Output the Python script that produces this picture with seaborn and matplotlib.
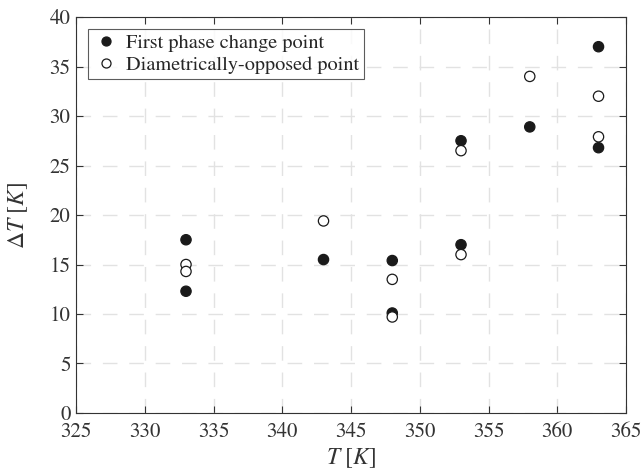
import numpy as np
import pandas as pd
import seaborn as sns
import matplotlib.pyplot as plt

# Данные
T_first = [333, 333, 343, 348, 348, 353, 353, 358, 363, 363]
dT_first = [17.5, 12.3, 15.5, 15.4, 10.1, 27.5, 17.0, 28.9, 37.0, 26.8]
T_opp = [333, 333, 343, 348, 348, 353, 353, 358, 363, 363]
dT_opp = [15.0, 14.3, 19.4, 13.5, 9.7, 26.5, 16.0, 34.0, 32.0, 27.9]

df = pd.concat([
    pd.DataFrame({'T': T_first, 'dT': dT_first, 'kind': 'First phase change point'}),
    pd.DataFrame({'T': T_opp, 'dT': dT_opp, 'kind': 'Diametrically-opposed point'}),
])

sns.set_style('ticks')
plt.rcParams['font.family'] = ['STIXGeneral', 'DejaVu Serif']
plt.rcParams['mathtext.fontset'] = 'stix'

fig = plt.figure(figsize=(6.43, 4.74), dpi=100)
ax = fig.add_axes([0.1182, 0.1287, 0.8554, 0.8354])

sns.scatterplot(data=df, x='T', y='dT', hue='kind', style='kind',
                palette={'First phase change point': '#1a1a1a', 'Diametrically-opposed point': 'white'},
                markers={'First phase change point': 'o', 'Diametrically-opposed point': 'o'},
                edgecolor='#1a1a1a', linewidth=0.9, s=55, ax=ax, zorder=3)

ax.set_xlim(325, 365)
ax.set_ylim(0, 40)
ax.set_xticks(np.arange(325, 366, 5))
ax.set_yticks(np.arange(0, 41, 5))
ax.grid(True, linestyle=(0, (10.5, 8.5)), color='#e2e2e2', linewidth=1.0)
ax.set_axisbelow(True)
for sp in ax.spines.values():
    sp.set_visible(True)
    sp.set_color('#333333')
    sp.set_linewidth(0.8)
ax.tick_params(direction='in', length=5, labelsize=15, top=True, right=True, colors='#333333',
               labelcolor='#333333')
ax.tick_params(axis='x', pad=7)
ax.tick_params(axis='y', pad=4)
ax.set_xlabel(r'$T\ [K]$', fontsize=17, labelpad=3, color='#333333')
ax.set_ylabel(r'$\Delta T\ [K]$', fontsize=17, labelpad=14, color='#333333')

leg = ax.legend(loc='upper left', fontsize=14.6, frameon=True, fancybox=False,
                edgecolor='#333333', borderaxespad=0.6, handletextpad=0.3,
                borderpad=0.25, labelspacing=0.15, handlelength=1.3)
leg.get_frame().set_linewidth(0.8)
for h in leg.legend_handles:
    h.set_markeredgecolor('#1a1a1a')
    h.set_markersize(6.5)

fig.savefig('out.png', dpi=100)
